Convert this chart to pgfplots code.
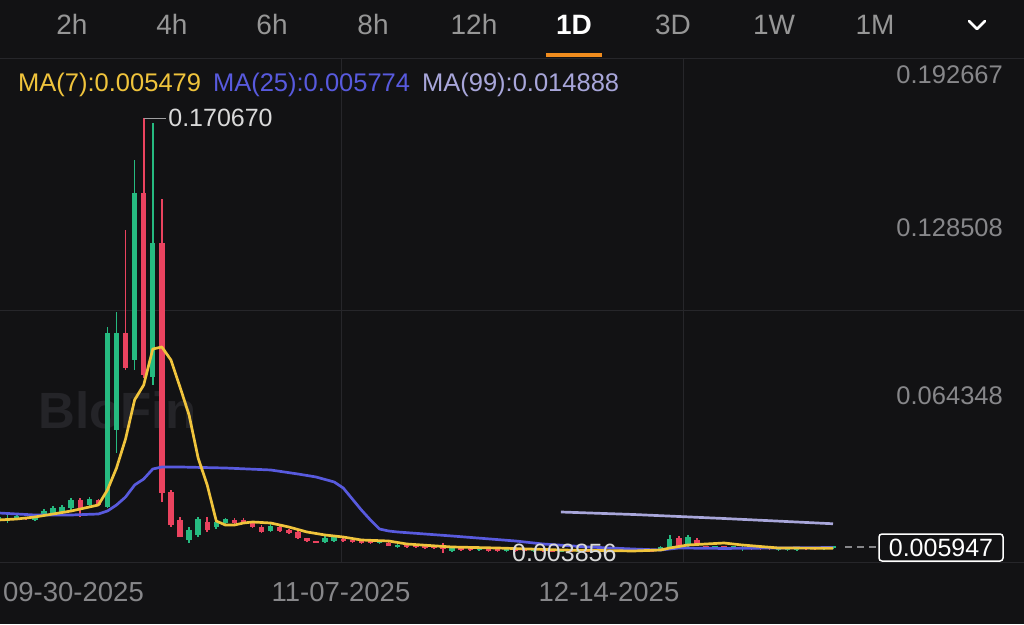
\documentclass[border=0pt]{standalone}
\usepackage{pgfplots}
\pgfplotsset{compat=1.18}
\usepackage{pgfplotstable}
\usepackage{fontspec}
\setmainfont{Liberation Sans}
\definecolor{bg}{RGB}{18,18,20}
\definecolor{upc}{RGB}{38,186,128}
\definecolor{dnc}{RGB}{234,67,95}
\definecolor{maA}{RGB}{240,196,60}
\definecolor{maB}{RGB}{88,90,222}
\definecolor{maC}{RGB}{168,166,218}
\definecolor{gridc}{RGB}{38,38,42}
\definecolor{tabc}{RGB}{150,150,150}
\definecolor{lblc}{RGB}{135,135,138}
\definecolor{orng}{RGB}{240,140,30}
\definecolor{wm}{RGB}{36,36,40}
\newcommand{\fs}[1]{\fontsize{#1}{#1}\selectfont}

\pgfplotstableread{
i o h l c
0 0.0167 0.0179 0.0163 0.0175
1 0.01595 0.01826 0.01518 0.0171
2 0.0171 0.01864 0.01672 0.01787
3 0.0171 0.0175 0.0165 0.01672
4 0.01634 0.01826 0.01595 0.01749
5 0.01864 0.02056 0.01787 0.01979
6 0.01903 0.02171 0.01864 0.02095
7 0.01941 0.0221 0.01903 0.02133
8 0.02095 0.02479 0.02018 0.02402
9 0.02402 0.02479 0.01749 0.02018
10 0.0221 0.02517 0.02133 0.0244
11 0.02402 0.0244 0.02171 0.0221
12 0.02133 0.09048 0.02095 0.08818
13 0.05091 0.09625 0.04208 0.08818
14 0.08818 0.12775 0.07396 0.07473
15 0.07781 0.15464 0.07396 0.14197
16 0.14197 0.17067 0.07089 0.07204
17 0.07128 0.16886 0.0682 0.12276
18 0.12276 0.13966 0.02325 0.02671
19 0.02709 0.02786 0.01365 0.01441
20 0.01634 0.01749 0.0098 0.0098
21 0.00865 0.01365 0.0075 0.01249
22 0.01057 0.01749 0.0098 0.01672
23 0.01557 0.01749 0.01173 0.01249
24 0.01365 0.01634 0.01288 0.01557
25 0.01518 0.0171 0.0148 0.01672
26 0.01634 0.0171 0.0148 0.01518
27 0.01634 0.0171 0.01518 0.01557
28 0.01518 0.01557 0.01326 0.01365
29 0.01365 0.01441 0.01134 0.01173
30 0.01211 0.0148 0.01173 0.01403
31 0.01365 0.01403 0.01173 0.01211
32 0.01249 0.01288 0.01096 0.01134
33 0.01173 0.01249 0.00904 0.00942
34 0.00942 0.00942 0.00788 0.00827
35 0.00827 0.00827 0.0075 0.0075
36 0.00788 0.01019 0.0075 0.00942
37 0.00827 0.01057 0.00788 0.0098
38 0.00904 0.00942 0.00788 0.00827
39 0.00865 0.00904 0.0075 0.00788
40 0.00827 0.00865 0.00712 0.0075
41 0.00827 0.00827 0.00712 0.0075
42 0.0075 0.00865 0.00712 0.00827
43 0.0075 0.00788 0.00635 0.00635
44 0.00596 0.00712 0.00558 0.00673
45 0.00673 0.00712 0.00558 0.00596
46 0.00673 0.00712 0.00558 0.00596
47 0.00635 0.00673 0.00519 0.00558
48 0.00635 0.00673 0.00519 0.00558
49 0.00635 0.0075 0.00366 0.00519
50 0.00443 0.00596 0.00404 0.00558
51 0.00558 0.00596 0.00443 0.00481
52 0.00519 0.00558 0.00443 0.00481
53 0.00481 0.00558 0.00443 0.00519
54 0.00519 0.00558 0.00404 0.00443
55 0.00481 0.00519 0.00404 0.00443
56 0.00443 0.00519 0.003856 0.00481
57 0.00481 0.00519 0.00404 0.00443
58 0.00481 0.00519 0.00404 0.00443
59 0.00443 0.00519 0.00404 0.00481
60 0.00481 0.00519 0.00404 0.00443
61 0.00443 0.00481 0.00404 0.00404
62 0.00404 0.00481 0.00404 0.00443
63 0.00443 0.00481 0.00404 0.00404
64 0.00404 0.00481 0.00404 0.00443
65 0.00443 0.00481 0.00404 0.00404
66 0.00404 0.00481 0.00404 0.00443
67 0.00443 0.00481 0.00404 0.00404
68 0.00443 0.00481 0.00404 0.00404
69 0.00404 0.00481 0.00404 0.00443
70 0.00443 0.00481 0.00404 0.00404
71 0.00443 0.00481 0.00404 0.00404
72 0.00443 0.00481 0.00404 0.00404
73 0.00481 0.00635 0.00443 0.00596
74 0.00596 0.01057 0.00558 0.00904
75 0.00942 0.01019 0.00596 0.00635
76 0.00635 0.01057 0.00596 0.0098
77 0.00865 0.00942 0.00635 0.00673
78 0.00596 0.00635 0.00519 0.00558
79 0.00558 0.00635 0.00519 0.00596
80 0.00596 0.00635 0.00519 0.00558
81 0.00558 0.00635 0.00519 0.00596
82 0.00519 0.00635 0.00443 0.00558
83 0.00558 0.00596 0.00481 0.00519
84 0.00558 0.00596 0.00481 0.00519
85 0.00558 0.00596 0.00481 0.00519
86 0.00481 0.00558 0.00443 0.00519
87 0.00481 0.00558 0.00443 0.00519
88 0.00481 0.00558 0.00443 0.00519
89 0.00558 0.00596 0.00481 0.00519
90 0.00558 0.00596 0.00481 0.00519
91 0.00519 0.00596 0.00481 0.00558
92 0.00558 0.00635 0.00519 0.005947
}\candles

\pgfplotstableread{
i v
0 0.01634
2 0.01672
4 0.01749
6 0.01864
8 0.01979
10 0.02133
11 0.0221
12 0.02786
13 0.03631
14 0.0475
15 0.0625
16 0.0682
17 0.08203
18 0.0828
19 0.07781
20 0.06743
21 0.05668
22 0.04016
23 0.02978
24 0.01595
25 0.01441
26 0.01441
27 0.01518
28 0.01557
30 0.01518
32 0.01365
34 0.01173
36 0.01057
38 0.0098
40 0.00865
43 0.00827
45 0.00712
50 0.00596
55 0.00558
62 0.00481
70 0.00443
73 0.00481
74 0.00558
76 0.00673
80 0.0075
82 0.00673
86 0.00558
92 0.005479
}\maseven

\pgfplotstableread{
i v
0 0.01903
4 0.01826
8 0.01826
11 0.01864
12 0.01979
13 0.0221
14 0.02517
15 0.02978
16 0.03209
17 0.03593
18 0.0367
20 0.0367
25 0.03631
30 0.03555
33 0.03401
35 0.03286
37 0.03094
38 0.02863
39 0.02441
40 0.02018
41 0.01634
42 0.01288
43 0.01211
44 0.01173
50 0.01019
57 0.00827
60 0.00712
65 0.00596
70 0.00519
73 0.00481
75 0.00558
80 0.0054
92 0.005774
}\matwentyfive

\pgfplotstableread{
i v
62 0.01941
70 0.01845
80 0.01691
92 0.014888
}\manineninety

\begin{document}
\begin{tikzpicture}
\fill[bg] (0pt,0pt) rectangle (1024pt,624pt);
\useasboundingbox (0pt,0pt) rectangle (1024pt,624pt);
% chrome: grid lines
\draw[gridc, line width=1pt] (0pt,565pt) -- (1024pt,565pt);
\draw[gridc, line width=1pt] (0pt,313pt) -- (1024pt,313pt);
\draw[gridc, line width=1pt] (0pt,62pt) -- (1024pt,62pt);
\draw[gridc, line width=1pt] (341pt,62pt) -- (341pt,565pt);
\draw[gridc, line width=1pt] (683pt,62pt) -- (683pt,565pt);
% tabs
\foreach \t/\x in {2h/72,4h/172,6h/272,8h/373,12h/474,3D/673,1W/774,1M/875}{
  \node[tabc, anchor=base, inner sep=0pt, font=\fs{28}] at (\x pt,589pt) {\t};
}
\node[white, anchor=base, inner sep=0pt, font=\fs{28}\bfseries] at (574pt,589pt) {1D};
\fill[orng] (546pt,567pt) rectangle (602pt,571pt);
\draw[white, line width=2.6pt, line cap=round, line join=round] (969pt,603pt) -- (977pt,595pt) -- (985pt,603pt);
% watermark
\node[wm, anchor=base west, inner sep=0pt, font=\fs{51}\bfseries] at (38pt,196pt) {BloFin};
% MA legend
\node[anchor=base west, inner sep=0pt, font=\fs{25.5}] at (18pt,532pt)
  {\textcolor{maA}{MA(7):0.005479}\hspace{12pt}\textcolor{maB}{MA(25):0.005774}\hspace{12pt}\textcolor{maC}{MA(99):0.014888}};
% price labels
\node[lblc, anchor=base east, inner sep=0pt, font=\fs{25.5}] at (1003pt,540pt) {0.192667};
\node[lblc, anchor=base east, inner sep=0pt, font=\fs{25.5}] at (1003pt,387pt) {0.128508};
\node[lblc, anchor=base east, inner sep=0pt, font=\fs{25.5}] at (1003pt,220pt) {0.064348};
% dates
\node[lblc, anchor=base, inner sep=0pt, font=\fs{27.5}] at (73.5pt,23pt) {09-30-2025};
\node[lblc, anchor=base, inner sep=0pt, font=\fs{27.5}] at (341pt,23pt) {11-07-2025};
\node[lblc, anchor=base, inner sep=0pt, font=\fs{27.5}] at (609pt,23pt) {12-14-2025};

\begin{axis}[at={(0pt,62pt)}, anchor=south west, scale only axis,
  width=1024pt, height=501pt,
  xmin=0.154, xmax=113.06, ymin=0.0002, ymax=0.192667,
  hide axis, clip=true]
% wicks
\addplot[draw=none, mark=none, forget plot,
  error bars/.cd, y dir=plus, y explicit, error mark=none,
  error bar style={line width=1.6pt, draw=upc}]
  table[x=i, y expr={\thisrow{c}>=\thisrow{o} ? \thisrow{l} : nan},
        y error expr={\thisrow{h}-\thisrow{l}}] {\candles};
\addplot[draw=none, mark=none, forget plot,
  error bars/.cd, y dir=plus, y explicit, error mark=none,
  error bar style={line width=1.6pt, draw=dnc}]
  table[x=i, y expr={\thisrow{c}<\thisrow{o} ? \thisrow{l} : nan},
        y error expr={\thisrow{h}-\thisrow{l}}] {\candles};
% bodies
\addplot[draw=none, mark=none, forget plot,
  error bars/.cd, y dir=plus, y explicit, error mark=none,
  error bar style={line width=5.4pt, draw=upc}]
  table[x=i, y expr={\thisrow{c}>=\thisrow{o} ? \thisrow{o} : nan},
        y error expr={max(\thisrow{c}-\thisrow{o},0.0009)}] {\candles};
\addplot[draw=none, mark=none, forget plot,
  error bars/.cd, y dir=plus, y explicit, error mark=none,
  error bar style={line width=5.4pt, draw=dnc}]
  table[x=i, y expr={\thisrow{c}<\thisrow{o} ? \thisrow{c} : nan},
        y error expr={max(\thisrow{o}-\thisrow{c},0.0009)}] {\candles};
% moving averages
\addplot[maB, line width=2.7pt, line join=round, mark=none] table[x=i,y=v] {\matwentyfive};
\addplot[maA, line width=2.7pt, line join=round, mark=none] table[x=i,y=v] {\maseven};
\addplot[maC, line width=2.7pt, line join=round, mark=none] table[x=i,y=v] {\manineninety};
% high marker
\draw[lblc!80!white, line width=1.3pt] (axis cs:16,0.17067) -- ++(22pt,0pt)
  node[right, inner sep=2pt, text=white!85!black, font=\fs{25}] {0.170670};
\end{axis}
% low label
\node[white!85!black, anchor=base west, inner sep=0pt, font=\fs{25}] at (512pt,63pt) {0.003856};
% current price
\draw[lblc, line width=2pt, dash pattern=on 7pt off 5pt] (845pt,77pt) -- (876pt,77pt);
\node[draw=white, line width=1.5pt, rounded corners=3pt, fill=bg, text=white,
  minimum width=124pt, minimum height=27pt, inner sep=0pt, font=\fs{25}] at (941pt,76.5pt) {0.005947};
\end{tikzpicture}
\end{document}
